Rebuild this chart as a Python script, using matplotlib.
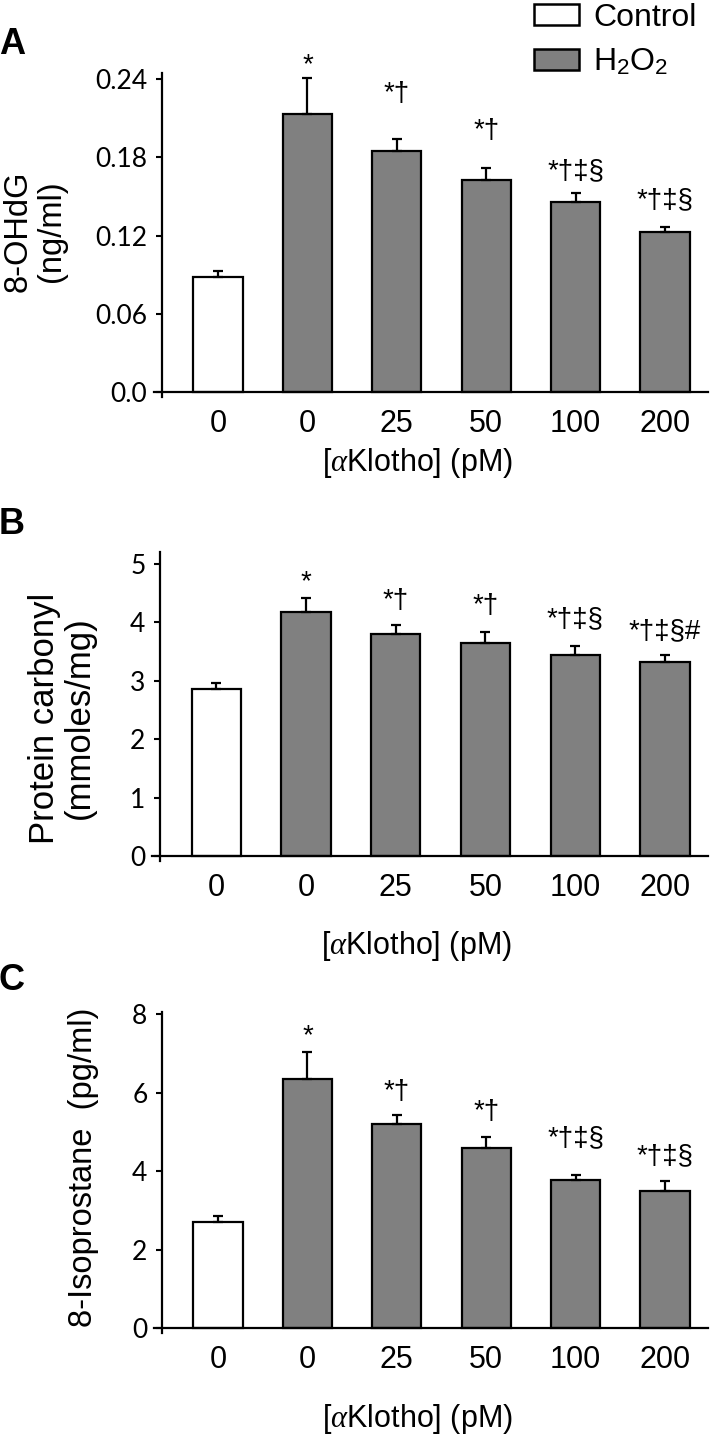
import numpy as np
import matplotlib
matplotlib.use("Agg")
import matplotlib.pyplot as plt
from matplotlib.patches import Patch

# Data
groups = ["0", "0", "25", "50", "100", "200"]
is_control = [True, False, False, False, False, False]

ohdg_mean = [0.088, 0.213, 0.185, 0.163, 0.146, 0.123]
ohdg_err = [0.005, 0.028, 0.009, 0.009, 0.007, 0.004]
ohdg_marks = ["", "*", "*†", "*†", "*†‡§", "*†‡§"]

carbonyl_mean = [2.86, 4.17, 3.80, 3.65, 3.44, 3.32]
carbonyl_err = [0.11, 0.24, 0.15, 0.18, 0.16, 0.13]
carbonyl_marks = ["", "*", "*†", "*†", "*†‡§", "*†‡§#"]

isop_mean = [2.70, 6.34, 5.20, 4.58, 3.77, 3.49]
isop_err = [0.15, 0.70, 0.22, 0.28, 0.14, 0.26]
isop_marks = ["", "*", "*†", "*†", "*†‡§", "*†‡§"]

W, H = 720, 1435
SANS = ["Liberation Sans", "DejaVu Sans"]
TICKFONT = ["Lato", "Liberation Sans", "DejaVu Sans"]

plt.rcParams["font.family"] = SANS
plt.rcParams["mathtext.fontset"] = "custom"
plt.rcParams["mathtext.rm"] = "Liberation Sans"
plt.rcParams["mathtext.it"] = "Liberation Serif:italic"

fig = plt.figure(figsize=(W / 100, H / 100), dpi=100)


def px_axes(left, right, top, bottom):
    return fig.add_axes([left / W, 1 - bottom / H, (right - left) / W, (bottom - top) / H])


def panel(ax, means, errs, marks, gaps, ylim, yticks, yticklabels):
    # spines first: moving a spine resets the ticks
    for s in ["top", "right"]:
        ax.spines[s].set_visible(False)
    ax.spines["bottom"].set_position(("data", 0))
    ax.spines["left"].set_position(("outward", -8 * 0.72))
    for s in ["left", "bottom"]:
        ax.spines[s].set_linewidth(1.6)

    x = np.arange(len(groups))
    colors = ["white" if c else "#808080" for c in is_control]
    ax.bar(x, means, width=0.55, color=colors, edgecolor="black", linewidth=1.6, zorder=2)
    ax.errorbar(x, means, yerr=[np.zeros(len(errs)), errs], fmt="none",
                ecolor="black", elinewidth=1.6, capsize=3.6, capthick=1.6, zorder=3)
    for i, m in enumerate(marks):
        if m:
            ax.annotate(m, xy=(i, means[i] + errs[i]), xytext=(0, gaps[i] * 0.72),
                        textcoords="offset points", ha="center", va="bottom",
                        fontsize=20)
    ax.set_xlim(-0.716, 5.48)
    ax.set_ylim(*ylim)
    ax.tick_params(axis="x", length=0, pad=12)
    ax.tick_params(axis="y", direction="out", length=4.5, width=1.5, pad=6)
    ax.set_yticks(yticks)
    ax.set_yticklabels(yticklabels, family=TICKFONT, fontsize=19)
    ax.set_xticks(x)
    ax.set_xticklabels(groups, fontsize=22)
    ax.set_xlabel(r"[$\alpha$Klotho] (pM)", fontsize=22)
    ax.patch.set_alpha(0)


# gap (px) between error bar top and its significance marks
axA = px_axes(154, 708, 72.8, 397.2)
panel(axA, ohdg_mean, ohdg_err, ohdg_marks, [0, 0, 32, 24, 8, 13], (-0.004, 0.245),
      [0, 0.06, 0.12, 0.18, 0.24], ["0.0", "0.06", "0.12", "0.18", "0.24"])
axA.xaxis.set_label_coords(0.475, -0.15)

axB = px_axes(152, 708, 552.3, 860.7)
panel(axB, carbonyl_mean, carbonyl_err, carbonyl_marks, [0, 3, 11, 13, 14, 10], (-0.08, 5.2),
      [0, 1, 2, 3, 4, 5], ["0", "1", "2", "3", "4", "5"])
axB.xaxis.set_label_coords(0.475, -0.222)

axC = px_axes(154, 708, 1012.1, 1333.1)
panel(axC, isop_mean, isop_err, isop_marks, [0, 3, 10, 12, 23, 12], (-0.13, 8.05),
      [0, 2, 4, 6, 8], ["0", "2", "4", "6", "8"])
axC.xaxis.set_label_coords(0.475, -0.214)

# y labels
fig.text(35 / W, 1 - 231 / H, "8-OHdG\n(ng/ml)", rotation=90, ha="center", va="center",
         fontsize=23.5, linespacing=1.1)
fig.text(62 / W, 1 - 718 / H, "Protein carbonyl\n(mmoles/mg)", rotation=90, ha="center",
         va="center", fontsize=25, linespacing=1.1)
fig.text(84 / W, 1 - 1167 / H, "8-Isoprostane  (pg/ml)", rotation=90, ha="center",
         va="center", fontsize=23.5)

# panel letters
for letter, y in [("A", 45), ("B", 525), ("C", 980)]:
    fig.text(12 / W, 1 - y / H, letter, ha="center", va="center", fontsize=26,
             fontweight="bold")

handles = [Patch(facecolor="white", edgecolor="black", linewidth=1.8),
           Patch(facecolor="#808080", edgecolor="black", linewidth=1.8)]
fig.legend(handles, ["Control", r"H$_2$O$_2$"], loc="upper left",
           bbox_to_anchor=(534 / W, 1 - 3 / H), frameon=False, fontsize=23,
           handlelength=1.41, handleheight=0.63, handletextpad=0.44,
           labelspacing=0.45, borderpad=0, borderaxespad=0)

fig.savefig("out.png", dpi=100)
